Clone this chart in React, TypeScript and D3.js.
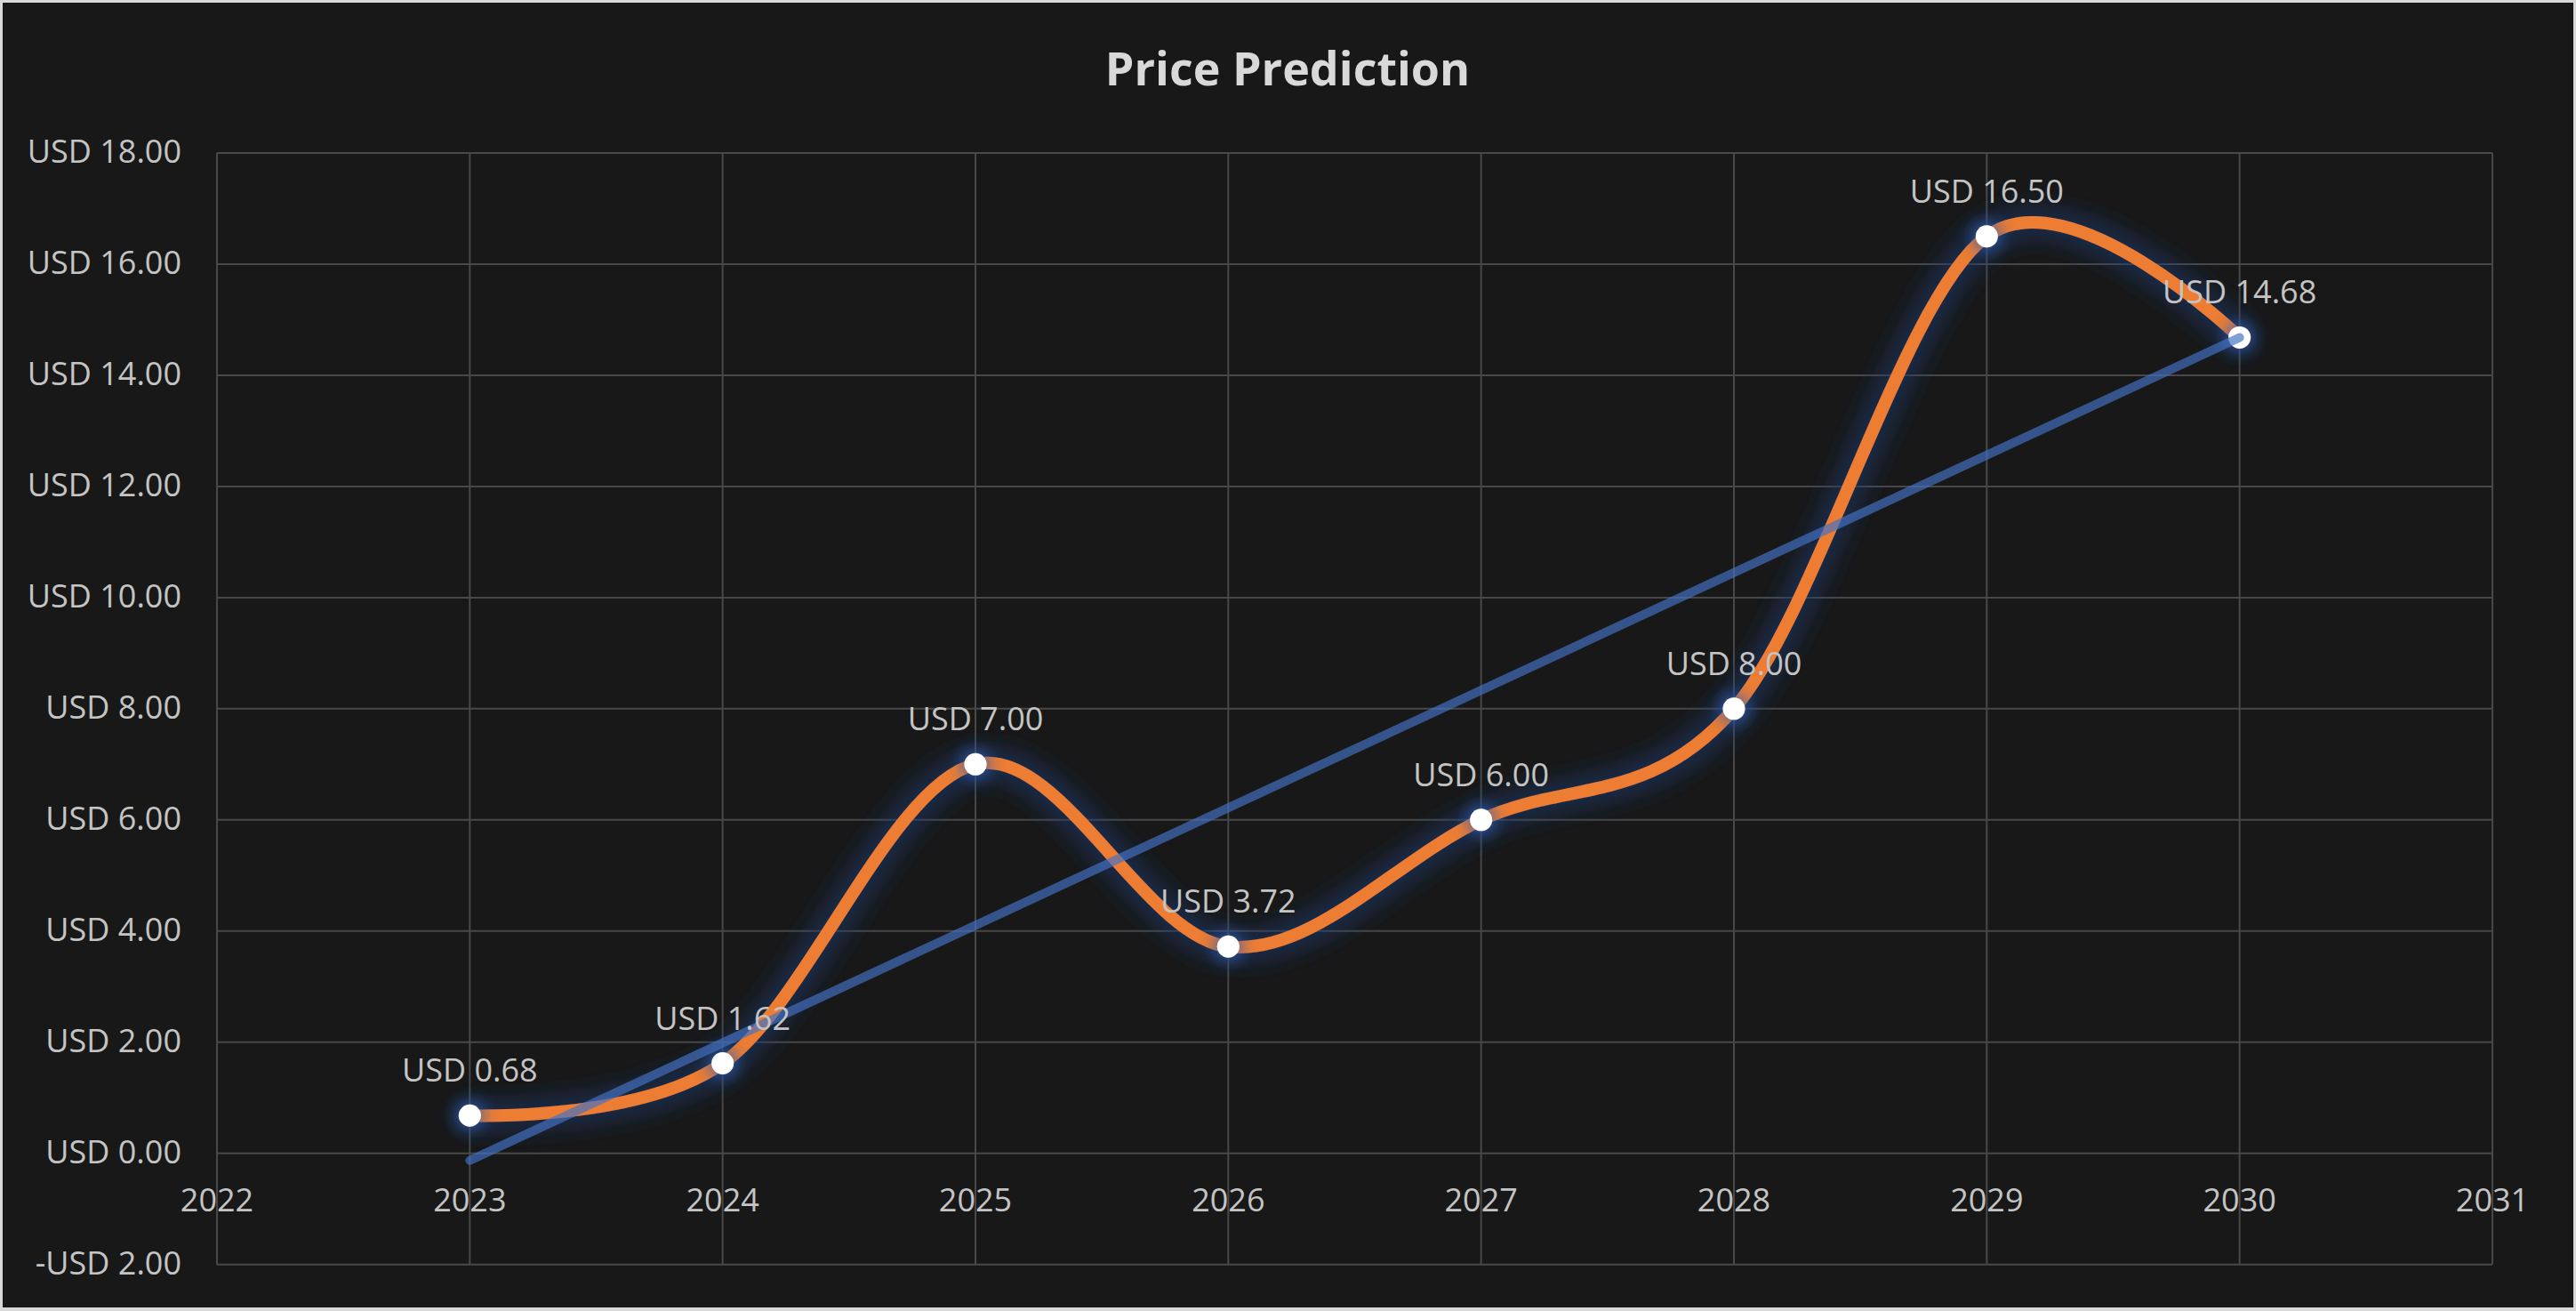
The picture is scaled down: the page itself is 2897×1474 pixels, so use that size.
import React from "react";
import * as d3 from "d3";

const years = [2023, 2024, 2025, 2026, 2027, 2028, 2029, 2030];
const prices = [0.68, 1.62, 7.0, 3.72, 6.0, 8.0, 16.5, 14.68];
const xTickValues = [2022, 2023, 2024, 2025, 2026, 2027, 2028, 2029, 2030, 2031];
const yTickValues = [-2, 0, 2, 4, 6, 8, 10, 12, 14, 16, 18];
const title = "Price Prediction";

const W = 2897;
const H = 1474;
const FONT = "'Open Sans', 'Noto Sans', sans-serif";

const fmt = (v: number) => (v < 0 ? "-" : "") + "USD " + Math.abs(v).toFixed(2);

export default function App() {
  const x = d3.scaleLinear().domain([2022, 2031]).range([244, 2803]);
  const y = d3.scaleLinear().domain([-2, 18]).range([1421.7, 172]);

  const pts: [number, number][] = years.map((yr, i) => [x(yr), y(prices[i])]);
  const line = d3.line().curve(d3.curveCardinal.tension(0))(pts) || "";

  // linear regression trendline
  const mx = d3.mean(years) as number;
  const my = d3.mean(prices) as number;
  const sxy = d3.sum(years, (yr, i) => (yr - mx) * (prices[i] - my));
  const sxx = d3.sum(years, (yr) => (yr - mx) * (yr - mx));
  const slope = sxy / sxx;
  const icpt = my - slope * mx;
  const tx0 = years[0];
  const tx1 = years[years.length - 1];

  return (
    <svg
      width={W}
      height={H}
      style={{ position: "absolute", left: 0, top: 0, display: "block" }}
    >
      <defs>
        <filter id="glowLine" x="-10%" y="-10%" width="120%" height="120%">
          <feMorphology in="SourceAlpha" operator="dilate" radius="4" result="d" />
          <feGaussianBlur in="d" stdDeviation="15" result="b" />
          <feFlood floodColor="#1c3a72" floodOpacity="0.85" result="c" />
          <feComposite in="c" in2="b" operator="in" result="g" />
          <feMerge>
            <feMergeNode in="g" />
            <feMergeNode in="SourceGraphic" />
          </feMerge>
        </filter>
        <filter id="glowMarker" x="-150%" y="-150%" width="400%" height="400%">
          <feMorphology in="SourceAlpha" operator="dilate" radius="3" result="d" />
          <feGaussianBlur in="d" stdDeviation="9" result="b" />
          <feFlood floodColor="#2e5fb8" floodOpacity="0.85" result="c" />
          <feComposite in="c" in2="b" operator="in" result="g" />
          <feMerge>
            <feMergeNode in="g" />
            <feMergeNode in="SourceGraphic" />
          </feMerge>
        </filter>
      </defs>
      <rect x={0} y={0} width={W} height={H} fill="#d9d9d9" />
      <rect x={3} y={3} width={W - 6} height={H - 7} fill="#181818" />

      <text
        x={1448}
        y={96}
        textAnchor="middle"
        fontFamily={FONT}
        fontWeight={700}
        fontSize={52}
        fill="#d9d9d9"
      >
        {title}
      </text>

      {/* grid */}
      {yTickValues.map((v) => (
        <line
          key={"gy" + v}
          x1={x(2022)}
          x2={x(2031)}
          y1={y(v)}
          y2={y(v)}
          stroke="#484848"
          strokeWidth={2}
        />
      ))}
      {xTickValues.map((v) => (
        <line
          key={"gx" + v}
          x1={x(v)}
          x2={x(v)}
          y1={y(-2)}
          y2={y(18)}
          stroke="#484848"
          strokeWidth={2}
        />
      ))}

      {/* y tick labels */}
      {yTickValues.map((v) => (
        <text
          key={"ty" + v}
          x={204}
          y={y(v) + 11}
          textAnchor="end"
          fontFamily={FONT}
          fontSize={36}
          fill="#c4c4c4"
        >
          {fmt(v)}
        </text>
      ))}
      {/* x tick labels */}
      {xTickValues.map((v) => (
        <text
          key={"tx" + v}
          x={x(v)}
          y={y(0) + 65}
          textAnchor="middle"
          fontFamily={FONT}
          fontSize={36}
          fill="#c4c4c4"
        >
          {v}
        </text>
      ))}

      {/* series with glow */}
      <path
        d={line}
        fill="none"
        stroke="#ed7d31"
        strokeWidth={14}
        strokeLinecap="round"
        filter="url(#glowLine)"
      />
      {pts.map(([px, py], i) => (
        <circle
          key={"m" + i}
          cx={px}
          cy={py}
          r={12.5}
          fill="#ffffff"
          filter="url(#glowMarker)"
        />
      ))}

      {/* trendline */}
      <line
        x1={x(tx0)}
        y1={y(icpt + slope * tx0)}
        x2={x(tx1)}
        y2={y(icpt + slope * tx1)}
        stroke="#4472c4"
        strokeOpacity={0.68}
        strokeWidth={10}
        strokeLinecap="round"
      />

      {/* data labels */}
      {pts.map(([px, py], i) => (
        <text
          key={"l" + i}
          x={px}
          y={py - 38}
          textAnchor="middle"
          fontFamily={FONT}
          fontSize={36}
          fill="#c4c4c4"
        >
          {fmt(prices[i])}
        </text>
      ))}
    </svg>
  );
}
